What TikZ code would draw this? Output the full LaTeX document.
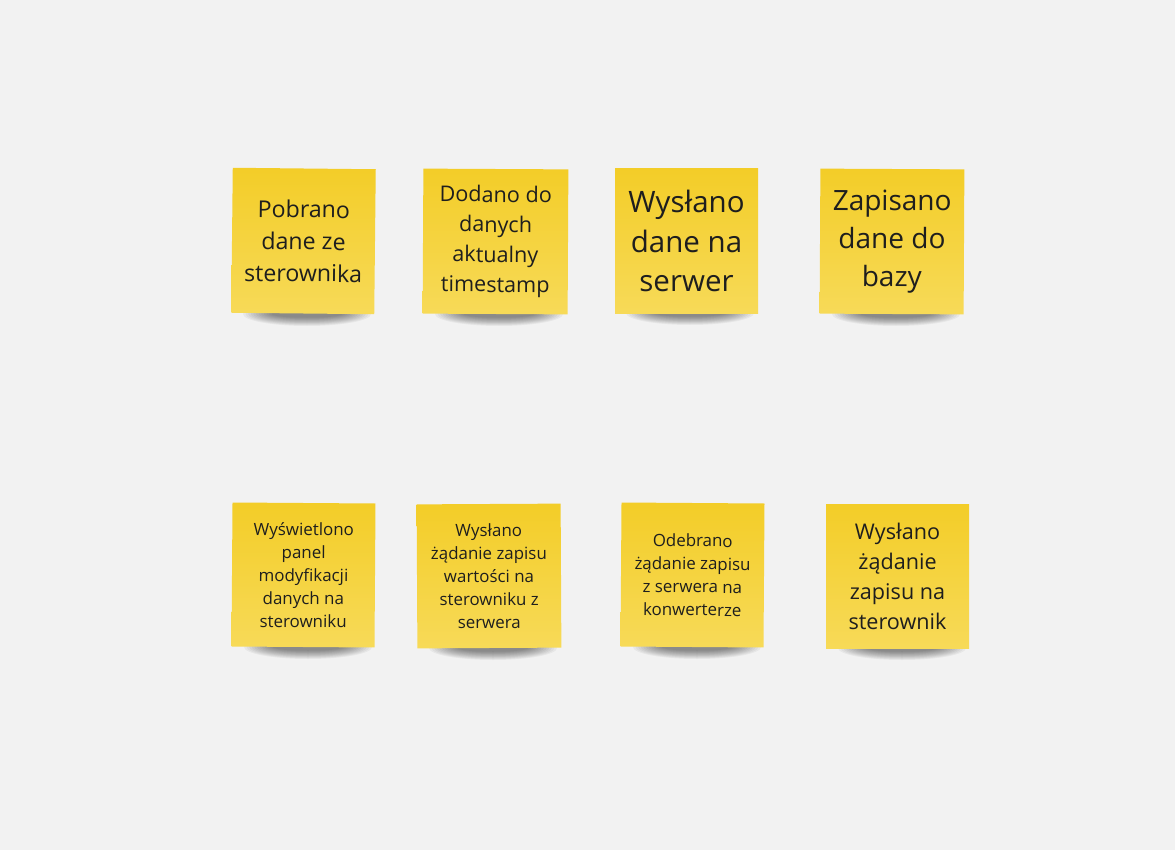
\documentclass[tikz,border=0pt]{standalone}
\usepackage{fontspec}
\setmainfont{Open Sans}
\definecolor{bg}{HTML}{F2F2F2}
\definecolor{stickytop}{HTML}{F3CD28}
\definecolor{stickybot}{HTML}{F7DA58}
\definecolor{txt}{HTML}{1E1E1E}
\tikzset{
  note/.style={minimum width=143pt, minimum height=145pt, inner sep=0pt,
    top color=stickytop, bottom color=stickybot, align=center, text=txt},
  huge/.style={font=\fontsize{29.5}{39.5}\selectfont},
  big/.style={font=\fontsize{28}{38}\selectfont},
  mid/.style={font=\fontsize{23.2}{32}\selectfont},
  med/.style={font=\fontsize{21.6}{30}\selectfont},
  small/.style={font=\fontsize{16.9}{23}\selectfont},
}
\newcommand{\noteshadow}[2]{%
  \foreach \i in {0,...,11}{
    \fill[black, opacity=0.045] (#1+4,#2+1) ellipse ({64-\i*2.6pt} and {12-\i*0.75pt});
  }}
\begin{document}
\begin{tikzpicture}[x=1pt,y=-1pt]
\fill[bg] (0,0) rectangle (1175,850);
\useasboundingbox (0,0) rectangle (1175,850);
% shadows
\noteshadow{303}{313}
\noteshadow{495}{313}
\noteshadow{686}{312}
\noteshadow{892}{313}
\noteshadow{304}{646}
\noteshadow{489}{647}
\noteshadow{693}{646}
\noteshadow{898}{647}
% top row
\node[note, mid, rotate=-0.6] (n1) at (303.5,241) {Pobrano\\dane ze\\sterownika};
\node[note, med, minimum width=145pt, rotate=-0.3] (n2) at (495.5,241.5) {Dodano do\\danych\\aktualny\\timestamp};
\node[note, huge, minimum height=144pt] (n3) at (686.5,241) {Wysłano\\dane na\\serwer};
\node[note, big, minimum width=144pt, rotate=-0.3] (n4) at (892,241.5) {Zapisano\\dane do\\bazy};
% bottom row
\node[note, small, minimum height=144pt, rotate=-0.4] (n5) at (303.5,575) {Wyświetlono\\panel\\modyfikacji\\danych na\\sterowniku};
\node[note, small, minimum width=144pt, minimum height=144pt, rotate=0.3] (n6) at (489,576) {Wysłano\\żądanie zapisu\\wartości na\\sterowniku z\\serwera};
\node[note, small, minimum height=144pt, rotate=-0.4] (n7) at (692.5,575) {Odebrano\\żądanie zapisu\\z serwera na\\konwerterze};
\node[note, med, minimum height=144pt] (n8) at (897.5,576) {Wysłano\\żądanie\\zapisu na\\sterownik};
\end{tikzpicture}
\end{document}
